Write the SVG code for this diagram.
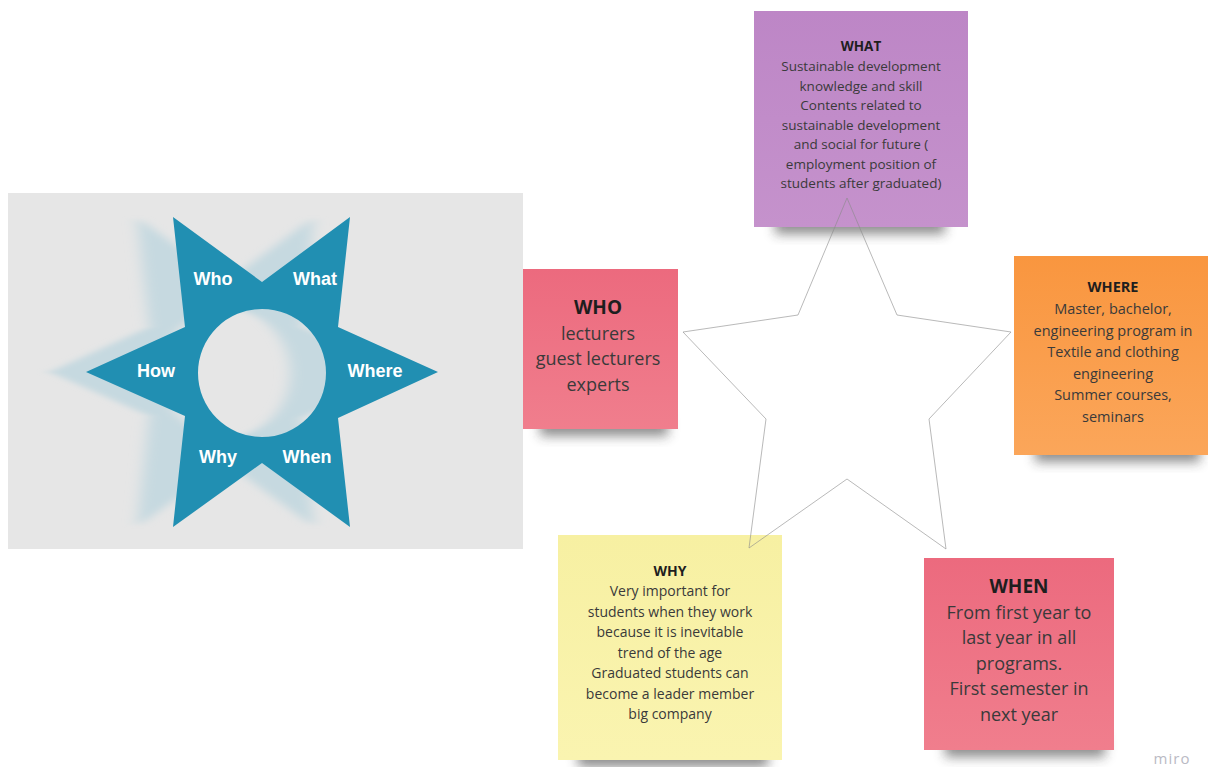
<svg xmlns="http://www.w3.org/2000/svg" width="1208" height="767" viewBox="0 0 1208 767">
<style>
.t{font-family:"Open Sans","Liberation Sans",sans-serif;fill:#3a3a3a;text-anchor:middle}
.b{font-weight:bold;fill:#1e1e1e}
.lab{font-family:"Liberation Sans","Arial",sans-serif;font-weight:bold;font-size:18px;fill:#ffffff;text-anchor:middle}
.shd{fill:#333;opacity:0.55;filter:url(#ns)}
</style>
<defs>
<filter id="hb" x="-20%" y="-10%" width="140%" height="120%"><feGaussianBlur stdDeviation="7 0.8"/></filter>
<filter id="ns" x="-20%" y="-50%" width="140%" height="200%"><feGaussianBlur stdDeviation="6"/></filter>
<linearGradient id="gp" x1="0" y1="0" x2="0" y2="1"><stop offset="0" stop-color="#bd86c6"/><stop offset="1" stop-color="#c592cc"/></linearGradient>
<linearGradient id="go" x1="0" y1="0" x2="0" y2="1"><stop offset="0" stop-color="#f9963f"/><stop offset="1" stop-color="#fba65a"/></linearGradient>
<linearGradient id="gr" x1="0" y1="0" x2="0" y2="1"><stop offset="0" stop-color="#ec6a7e"/><stop offset="1" stop-color="#f07e8d"/></linearGradient>
<linearGradient id="gy" x1="0" y1="0" x2="0" y2="1"><stop offset="0" stop-color="#f7f0a2"/><stop offset="1" stop-color="#faf4b0"/></linearGradient>
</defs>

<g id="picture">
<rect x="8" y="193" width="515" height="356" fill="#e6e6e6"/>
<path fill="#c6d9e0" fill-rule="evenodd" filter="url(#hb)" transform="translate(-36,0)" d="M173,217 L262,282 L350,217 L338,327 L438,372 L338,418 L350,527 L262,463 L173,527 L185,416 L86,372 L185,327 Z M326,373 A64,64 0 1 0 198,373 A64,64 0 1 0 326,373 Z"/>
<path fill="#218fb2" fill-rule="evenodd" d="M173,217 L262,282 L350,217 L338,327 L438,372 L338,418 L350,527 L262,463 L173,527 L185,416 L86,372 L185,327 Z M326,373 A64,64 0 1 0 198,373 A64,64 0 1 0 326,373 Z"/>
<text class="lab" x="213" y="285">Who</text>
<text class="lab" x="315" y="285">What</text>
<text class="lab" x="156" y="377">How</text>
<text class="lab" x="375" y="377">Where</text>
<text class="lab" x="218" y="463">Why</text>
<text class="lab" x="307" y="463">When</text>
</g>

<g id="note-what">
<rect class="shd" x="775" y="212" width="170" height="22"/>
<rect x="754" y="11" width="214" height="216" fill="url(#gp)"/>
<text class="t" font-size="13.5"><tspan class="b" x="861" y="51">WHAT</tspan><tspan x="861" y="71">Sustainable development</tspan><tspan x="861" y="90.5">knowledge and skill</tspan><tspan x="861" y="110">Contents related to</tspan><tspan x="861" y="129.5">sustainable development</tspan><tspan x="861" y="149">and social for future (</tspan><tspan x="861" y="168.5">employment position of</tspan><tspan x="861" y="188">students after graduated)</tspan></text>
</g>

<g id="note-where">
<rect class="shd" x="1035" y="440" width="165" height="22"/>
<rect x="1014" y="256" width="194" height="199" fill="url(#go)"/>
<text class="t" font-size="14.5"><tspan class="b" x="1113" y="292">WHERE</tspan><tspan x="1113" y="314">Master, bachelor,</tspan><tspan x="1113" y="335.5">engineering program in</tspan><tspan x="1113" y="357">Textile and clothing</tspan><tspan x="1113" y="378.5">engineering</tspan><tspan x="1113" y="400">Summer courses,</tspan><tspan x="1113" y="421.5">seminars</tspan></text>
</g>

<g id="note-who">
<rect class="shd" x="540" y="414" width="128" height="22"/>
<rect x="523" y="269" width="155" height="160" fill="url(#gr)"/>
<text class="t" font-size="18"><tspan class="b" x="598" y="314" font-size="19">WHO</tspan><tspan x="598" y="339.5">lecturers</tspan><tspan x="598" y="365">guest lecturers</tspan><tspan x="598" y="390.5">experts</tspan></text>
</g>

<g id="note-why">
<rect class="shd" x="578" y="745" width="190" height="22"/>
<rect x="558" y="535" width="224" height="225" fill="url(#gy)"/>
<text class="t" font-size="14"><tspan class="b" x="670" y="576">WHY</tspan><tspan x="670" y="596">Very important for</tspan><tspan x="670" y="616.5">students when they work</tspan><tspan x="670" y="637">because it is inevitable</tspan><tspan x="670" y="657.5">trend of the age</tspan><tspan x="670" y="678">Graduated students can</tspan><tspan x="670" y="698.5">become a leader member</tspan><tspan x="670" y="719">big company</tspan></text>
</g>

<g id="note-when">
<rect class="shd" x="945" y="735" width="160" height="22"/>
<rect x="924" y="558" width="190" height="192" fill="url(#gr)"/>
<text class="t" font-size="18"><tspan class="b" x="1019" y="593" font-size="19">WHEN</tspan><tspan x="1019" y="618.5">From first year to</tspan><tspan x="1019" y="644">last year in all</tspan><tspan x="1019" y="669.5">programs.</tspan><tspan x="1019" y="695">First semester in</tspan><tspan x="1019" y="720.5">next year</tspan></text>
</g>

<g id="connectors">
<polygon points="847,198 897,315 1011,332 929,419 946,549 847,479 749,548 766,419 683,332 798,315" fill="none" stroke="#8a8a8a" stroke-opacity="0.6" stroke-width="1"/>
</g>

<text x="1172" y="764" font-family="'Open Sans','Liberation Sans',sans-serif" font-size="15" fill="#babac4" text-anchor="middle" letter-spacing="1">miro</text>
</svg>
